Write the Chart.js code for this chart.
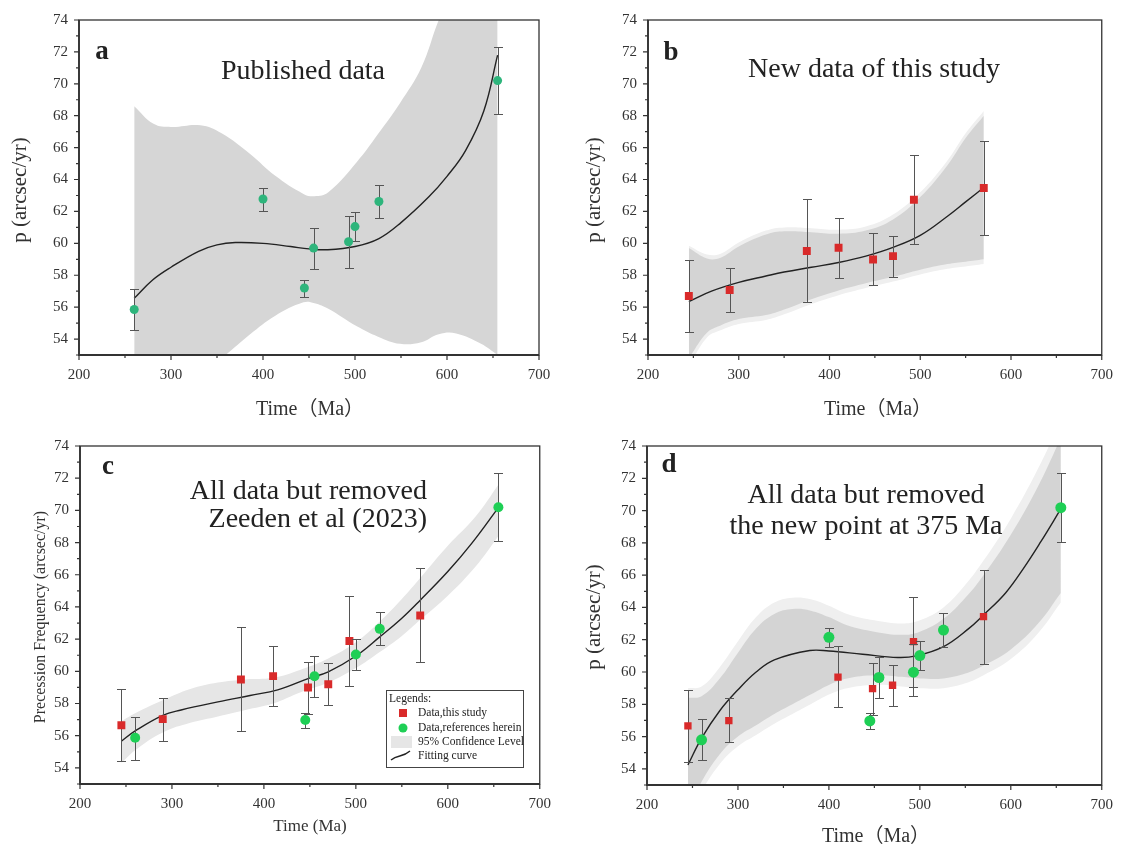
<!DOCTYPE html>
<html>
<head>
<meta charset="utf-8">
<script src="https://cdn.jsdelivr.net/npm/chart.js@4.4.1/dist/chart.umd.min.js"></script>
<style>
  body { margin: 0; background: #fff; }
  #wrap { position: relative; width: 1124px; height: 848px; }
  canvas { position: absolute; }
</style>
</head>
<body>
<div id="wrap">
  <canvas id="ca" width="562" height="424" style="left:0;top:0"></canvas>
  <canvas id="cb" width="562" height="424" style="left:562px;top:0"></canvas>
  <canvas id="cc" width="562" height="424" style="left:0;top:424px"></canvas>
  <canvas id="cd" width="562" height="424" style="left:562px;top:424px"></canvas>
</div>
<script>
// ticks
const xTicks = [200, 300, 400, 500, 600, 700];
const xMinor = [250, 350, 450, 550, 650];
const yTicks = [54, 56, 58, 60, 62, 64, 66, 68, 70, 72, 74];
const yMinor = [53, 55, 57, 59, 61, 63, 65, 67, 69, 71, 73];

// a - published data
const aRefX  = [260, 400, 445, 455, 493, 500, 526, 655];
const aRefY  = [55.85, 62.78, 57.2, 59.7, 60.1, 61.05, 62.62, 70.2];
const aRefLo = [54.55, 62.05, 56.65, 58.42, 58.47, 60.12, 61.58, 68.12];
const aRefHi = [57.12, 63.45, 57.72, 60.95, 61.72, 61.98, 63.68, 72.3];
const aFitX  = [260, 280, 300, 330, 350, 370, 400, 430, 450, 470, 500, 526, 550, 580, 600, 620, 640, 655];
const aFitY  = [56.55, 57.7, 58.5, 59.5, 59.9, 60.05, 60.0, 59.8, 59.65, 59.6, 59.8, 60.3, 61.3, 62.9, 64.2, 65.8, 68.3, 71.8];
const aBandX = [260, 281, 300, 332, 355, 386, 413, 444, 456, 471, 502, 525, 549, 572, 591, 610, 637, 655];
const aBandUp = [68.6, 67.5, 67.3, 67.4, 66.9, 65.6, 64.25, 63.1, 62.95, 63.2, 65.1, 66.85, 68.8, 71.0, 74.0, 76.5, 79, 81];
const aBandLo = [47.5, 49.0, 50.3, 51.9, 52.8, 54.3, 55.45, 56.3, 56.25, 55.9, 54.8, 54.15, 53.7, 53.8, 54.3, 54.35, 53.7, 53.0];

// b - new data of this study
const bNewX  = [245, 290, 375, 410, 448, 470, 493, 570];
const bNewY  = [56.7, 57.07, 59.52, 59.72, 58.99, 59.2, 62.73, 63.47];
const bNewLo = [54.44, 55.7, 56.3, 57.8, 57.4, 57.9, 59.94, 60.55];
const bNewHi = [58.98, 58.43, 62.77, 61.6, 60.66, 60.47, 65.54, 66.4];
const bFitX  = [245, 270, 300, 330, 350, 380, 410, 440, 470, 500, 530, 550, 570];
const bFitY  = [56.35, 57.0, 57.55, 57.95, 58.2, 58.5, 58.8, 59.2, 59.75, 60.5, 61.7, 62.6, 63.5];
const bBandX = [245, 265, 280, 300, 330, 350, 380, 410, 440, 470, 500, 530, 550, 570];
const bBandUp = [59.7, 59.05, 59.1, 59.8, 60.55, 60.75, 60.7, 60.6, 60.8, 61.5, 62.9, 64.9, 66.6, 68.0];
const bBandLo = [52.8, 54.4, 54.85, 55.25, 55.5, 55.85, 56.5, 57.05, 57.5, 57.9, 58.35, 58.7, 58.85, 59.0];
const bOuterUp = [59.85, 59.3, 59.35, 60.05, 60.8, 61.0, 60.95, 60.85, 61.05, 61.8, 63.2, 65.2, 66.9, 68.3];
const bOuterLo = [52.3, 54.1, 54.55, 54.95, 55.2, 55.55, 56.2, 56.75, 57.2, 57.6, 58.05, 58.4, 58.55, 58.7];

// c - all data but removed Zeeden et al (2023)
const cNewX  = [245, 290, 375, 410, 448, 470, 493, 570];
const cNewY  = [56.65, 57.03, 59.49, 59.7, 59.0, 59.2, 61.88, 63.47];
const cNewLo = [54.43, 55.68, 56.28, 57.83, 57.38, 57.9, 59.08, 60.57];
const cNewHi = [58.93, 58.37, 62.73, 61.59, 60.59, 60.49, 64.7, 66.43];
const cRefX  = [260, 445, 455, 500, 526, 655];
const cRefY  = [55.87, 56.98, 59.7, 61.05, 62.64, 70.2];
const cRefLo = [54.52, 56.45, 58.39, 60.11, 61.61, 68.11];
const cRefHi = [57.17, 57.42, 60.98, 61.98, 63.68, 72.3];
const cFitX  = [245, 260, 290, 310, 350, 385, 415, 448, 470, 500, 526, 550, 570, 600, 626, 655];
const cFitY  = [55.66, 56.3, 57.27, 57.6, 58.1, 58.5, 58.85, 59.55, 59.97, 60.95, 62.14, 63.3, 64.42, 66.2, 67.95, 70.17];
const cBandX = [245, 260, 290, 320, 350, 380, 410, 440, 470, 500, 526, 550, 570, 600, 630, 655];
const cBandUp = [56.9, 57.4, 58.2, 58.9, 59.3, 59.5, 59.6, 60.1, 60.8, 61.8, 63.1, 64.5, 65.8, 67.8, 69.6, 71.6];
const cBandLo = [54.3, 55.1, 56.2, 56.8, 57.2, 57.6, 58.0, 58.7, 59.3, 60.2, 61.2, 62.2, 63.2, 64.7, 66.5, 68.4];

// d - all data but removed the new point at 375 Ma
const dNewX  = [245, 290, 410, 448, 470, 493, 570];
const dNewY  = [56.66, 56.99, 59.68, 58.97, 59.18, 61.88, 63.43];
const dNewLo = [54.45, 55.65, 57.82, 57.34, 57.9, 59.1, 60.5];
const dNewHi = [58.89, 58.37, 61.58, 60.58, 60.44, 64.67, 66.32];
const dRefX  = [260, 400, 445, 455, 493, 500, 526, 655];
const dRefY  = [55.8, 62.15, 56.97, 59.66, 59.99, 61.02, 62.6, 70.18];
const dRefLo = [54.56, 61.57, 56.46, 58.37, 58.5, 60.1, 61.57, 68.08];
const dRefHi = [57.08, 62.75, 57.49, 60.96, 61.74, 61.95, 63.64, 72.3];
const dFitX  = [245, 260, 280, 300, 320, 340, 379, 400, 437, 476, 496, 526, 554, 570, 594, 614, 633, 655];
const dFitY  = [54.24, 55.9, 57.6, 58.9, 60.0, 60.75, 61.33, 61.3, 61.1, 60.9, 61.0, 61.57, 62.7, 63.53, 64.88, 66.42, 68.07, 70.1];
const dBandX = [245, 260, 280, 300, 320, 340, 360, 380, 400, 420, 450, 480, 500, 526, 550, 570, 600, 630, 655];
const dBandUp = [58.4, 58.5, 59.6, 61.2, 62.7, 63.6, 63.9, 63.8, 63.4, 62.9, 62.5, 62.3, 62.5, 63.3, 64.6, 66.0, 68.5, 71.5, 74.5];
const dBandLo = [51.5, 53.2, 54.9, 56.0, 56.7, 57.4, 58.0, 58.6, 59.2, 59.6, 59.8, 59.7, 59.6, 59.6, 59.9, 60.4, 61.4, 63.0, 64.9];
const dOuterUp = [59.0, 59.1, 60.3, 61.9, 63.4, 64.3, 64.6, 64.5, 64.1, 63.6, 63.2, 63.0, 63.2, 64.0, 65.4, 66.9, 69.5, 72.6, 75.6];
const dOuterLo = [50.9, 52.6, 54.3, 55.4, 56.1, 56.8, 57.4, 58.0, 58.6, 59.0, 59.2, 59.1, 59.0, 59.0, 59.3, 59.8, 60.8, 62.4, 64.3];

const SERIF = '"Liberation Serif", "Times New Roman", "Noto Sans CJK SC", serif';
const RED = '#d92a2a';
const GREEN_A = '#2eb57c';
const GREEN = '#1ecf55';

const pts = (xs, ys) => xs.map((x, i) => ({ x, y: ys[i] }));

function markers(xs, ys, lo, hi, color, style, r) {
  return { data: pts(xs, ys), errLo: lo, errHi: hi, backgroundColor: color, borderWidth: 0,
           pointStyle: style, pointRadius: r, showLine: false };
}
function curve(xs, ys) {
  return { data: pts(xs, ys), showLine: true, borderColor: '#222', borderWidth: 1.4,
           pointRadius: 0, tension: 0.4, fill: false };
}
function band(xs, up, lo, color) {
  return [
    { data: pts(xs, up), showLine: true, borderWidth: 0, pointRadius: 0, tension: 0.4,
      backgroundColor: color, fill: '+1' },
    { data: pts(xs, lo), showLine: true, borderWidth: 0, pointRadius: 0, tension: 0.4, fill: false }
  ];
}

function txt(ctx, s, x, y, font, align, color, rot) {
  ctx.save();
  ctx.font = font;
  ctx.fillStyle = color || '#222';
  ctx.textAlign = align || 'center';
  ctx.textBaseline = 'middle';
  ctx.translate(x, y);
  if (rot) ctx.rotate(rot);
  ctx.fillText(s, 0, 0);
  ctx.restore();
}

// frame, ticks, error bars, labels
const deco = {
  id: 'deco',
  beforeDatasetDraw(chart, args) {
    const ds = chart.data.datasets[args.index];
    if (!ds.errLo) return;
    const { ctx, scales: { x, y } } = chart;
    ctx.save();
    ctx.strokeStyle = '#555';
    ctx.lineWidth = 1;
    ds.data.forEach((p, i) => {
      const px = Math.round(x.getPixelForValue(p.x)) + 0.5;
      const y1 = Math.round(y.getPixelForValue(ds.errLo[i])) + 0.5;
      const y2 = Math.round(y.getPixelForValue(ds.errHi[i])) + 0.5;
      ctx.beginPath();
      ctx.moveTo(px, y1); ctx.lineTo(px, y2);
      ctx.moveTo(px - 4.5, y1); ctx.lineTo(px + 4.5, y1);
      ctx.moveTo(px - 4.5, y2); ctx.lineTo(px + 4.5, y2);
      ctx.stroke();
    });
    ctx.restore();
  },
  afterDraw(chart, args, o) {
    const { ctx, chartArea: a, scales: { x, y } } = chart;
    ctx.save();
    ctx.strokeStyle = '#333';
    ctx.lineWidth = 1.3;
    ctx.strokeRect(a.left, a.top, a.right - a.left, a.bottom - a.top);
    ctx.lineWidth = 1.8;
    ctx.beginPath();
    ctx.moveTo(a.left, a.top); ctx.lineTo(a.left, a.bottom); ctx.lineTo(a.right, a.bottom);
    ctx.stroke();
    ctx.lineWidth = 1.2;
    ctx.beginPath();
    xTicks.forEach(v => { const px = x.getPixelForValue(v); ctx.moveTo(px, a.bottom); ctx.lineTo(px, a.bottom + 5); });
    xMinor.forEach(v => { const px = x.getPixelForValue(v); ctx.moveTo(px, a.bottom); ctx.lineTo(px, a.bottom + 3); });
    yTicks.forEach(v => { const py = y.getPixelForValue(v); ctx.moveTo(a.left, py); ctx.lineTo(a.left - 5, py); });
    yMinor.forEach(v => { const py = y.getPixelForValue(v); ctx.moveTo(a.left, py); ctx.lineTo(a.left - 3, py); });
    ctx.stroke();
    ctx.restore();

    txt(ctx, o.letter[0], o.letter[1], o.letter[2], 'bold 27px ' + SERIF, 'center', '#222');
    o.titles.forEach(t => txt(ctx, t[0], t[1], t[2], '28px ' + SERIF, t[3] || 'center', '#222'));
    txt(ctx, o.ylabel[0], o.ylabel[1], o.ylabel[2], o.ylabel[3] + 'px ' + SERIF, 'center', '#333', -Math.PI / 2);
    txt(ctx, o.xlabel[0], o.xlabel[1], o.xlabel[2], o.xlabel[3] + 'px ' + SERIF, 'center', '#333');

    if (o.legend) {
      const f = '11.5px ' + SERIF;
      ctx.save();
      ctx.fillStyle = '#fff';
      ctx.fillRect(386, 266, 137, 77);
      ctx.strokeStyle = '#444';
      ctx.lineWidth = 1;
      ctx.strokeRect(386.5, 266.5, 137, 77);
      ctx.fillStyle = RED;
      ctx.fillRect(399, 285, 8, 8);
      ctx.fillStyle = GREEN;
      ctx.beginPath(); ctx.arc(403, 304, 4.5, 0, Math.PI * 2); ctx.fill();
      ctx.fillStyle = '#e6e6e6';
      ctx.fillRect(391, 312, 21, 12);
      ctx.strokeStyle = '#222';
      ctx.lineWidth = 1.4;
      ctx.beginPath(); ctx.moveTo(391, 336); ctx.bezierCurveTo(398, 330, 402, 334, 410, 327); ctx.stroke();
      ctx.restore();
      txt(ctx, 'Legends:', 389, 275, f, 'left', '#222');
      txt(ctx, 'Data,this study', 418, 289, f, 'left', '#222');
      txt(ctx, 'Data,references herein', 418, 304, f, 'left', '#222');
      txt(ctx, '95% Confidence Level', 418, 318, f, 'left', '#222');
      txt(ctx, 'Fitting curve', 418, 332, f, 'left', '#222');
    }
  }
};

function panel(id, lay, datasets, d) {
  return new Chart(document.getElementById(id), {
    type: 'scatter',
    data: { datasets },
    plugins: [deco],
    options: {
      responsive: false,
      animation: false,
      events: [],
      layout: { padding: { left: 0, top: lay.top, right: lay.right, bottom: 0 } },
      plugins: { legend: { display: false }, tooltip: { enabled: false }, deco: d },
      scales: {
        x: {
          type: 'linear', min: 200, max: 700,
          afterBuildTicks: s => { s.ticks = xTicks.map(v => ({ value: v })); },
          afterFit: s => { s.height = lay.xh; },
          grid: { display: false, drawTicks: false }, border: { display: false },
          ticks: { padding: 11, color: '#333', font: { family: SERIF, size: 15 } }
        },
        y: {
          type: 'linear', min: 53, max: 74,
          afterBuildTicks: s => { s.ticks = yTicks.map(v => ({ value: v })); },
          afterFit: s => { s.width = lay.yw; },
          grid: { display: false, drawTicks: false }, border: { display: false },
          ticks: { padding: 11, color: '#333', font: { family: SERIF, size: 15 } }
        }
      }
    }
  });
}

panel('ca', { top: 16, right: 23, yw: 79, xh: 69 }, [
  markers(aRefX, aRefY, aRefLo, aRefHi, GREEN_A, 'circle', 4.5),
  curve(aFitX, aFitY),
  ...band(aBandX, aBandUp, aBandLo, '#d6d6d6')
], {
  letter: ['a', 102, 52],
  titles: [['Published data', 303, 72]],
  ylabel: ['p (arcsec/yr)', 20, 190, 21],
  xlabel: ['Time（Ma）', 310, 410, 20]
});

panel('cb', { top: 18, right: 19, yw: 86, xh: 69 }, [
  markers(bNewX, bNewY, bNewLo, bNewHi, RED, 'rect', 5.6),
  curve(bFitX, bFitY),
  ...band(bBandX, bBandUp, bBandLo, '#d4d4d4'),
  ...band(bBandX, bOuterUp, bOuterLo, '#efefef')
], {
  letter: ['b', 109, 53],
  titles: [['New data of this study', 312, 70]],
  ylabel: ['p (arcsec/yr)', 32, 190, 21],
  xlabel: ['Time（Ma）', 316, 410, 20]
});

panel('cc', { top: 22, right: 21, yw: 80, xh: 64 }, [
  markers(cRefX, cRefY, cRefLo, cRefHi, GREEN, 'circle', 5),
  markers(cNewX, cNewY, cNewLo, cNewHi, RED, 'rect', 5.6),
  curve(cFitX, cFitY),
  ...band(cBandX, cBandUp, cBandLo, '#e6e6e6')
], {
  letter: ['c', 108, 43],
  titles: [['All data but removed', 427, 68, 'right'], ['Zeeden et al (2023)', 427, 96, 'right']],
  ylabel: ['Precession Frequency (arcsec/yr)', 41, 193, 16],
  xlabel: ['Time (Ma)', 310, 403, 17],
  legend: true
});

panel('cd', { top: 22, right: 17, yw: 85, xh: 63 }, [
  markers(dRefX, dRefY, dRefLo, dRefHi, GREEN, 'circle', 5.5),
  markers(dNewX, dNewY, dNewLo, dNewHi, RED, 'rect', 5.2),
  curve(dFitX, dFitY),
  ...band(dBandX, dBandUp, dBandLo, '#d4d4d4'),
  ...band(dBandX, dOuterUp, dOuterLo, '#efefef')
], {
  letter: ['d', 107, 41],
  titles: [['All data but removed', 304, 72], ['the new point at 375 Ma', 304, 103]],
  ylabel: ['p (arcsec/yr)', 32, 193, 21],
  xlabel: ['Time（Ma）', 314, 413, 20]
});
</script>
</body>
</html>
